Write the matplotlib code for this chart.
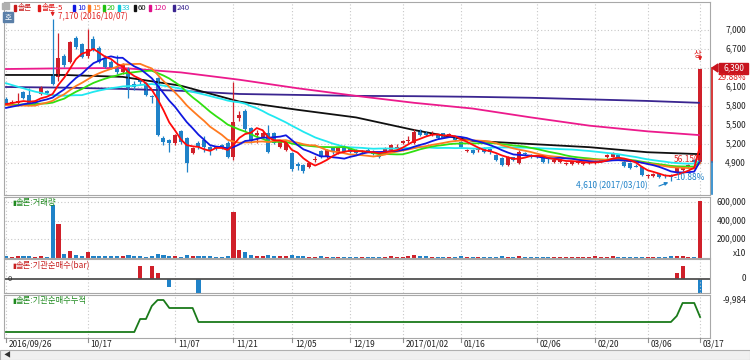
import numpy as np
import matplotlib.pyplot as plt
from matplotlib.patches import Rectangle, Polygon
from matplotlib.lines import Line2D

plt.rcParams['font.family'] = ['Noto Sans CJK KR', 'DejaVu Sans']

# ---- data ----
dates = ['2016/09/26', '10/17', '11/07', '11/21', '12/05', '12/19',
         '2017/01/02', '01/16', '02/06', '02/20', '03/06', '03/17']
date_idx = [0, 14, 29, 39, 49, 59, 68, 78, 91, 101, 110, 119]

opens = [5910, 5840, 5850, 6020, 5980, 5850, 5990, 6040, 6290, 6260,
         6590, 6500, 6880, 6780, 6590, 6860, 6720, 6560, 6490, 6420,
         6330, 6400, 6150, 6220, 6160, 5950, 6240, 5300, 5260, 5210,
         5400, 5300, 5060, 5220, 5260, 5150, 5150, 5180, 5220, 5000,
         5610, 5720, 5450, 5340, 5310, 5380, 5370, 5160, 5110, 5060,
         4880, 4870, 4840, 4950, 5090, 4990, 5140, 5060, 5150, 5130,
         5100, 5070, 5110, 5080, 5030, 5080, 5110, 5140, 5220, 5250,
         5220, 5420, 5390, 5350, 5340, 5370, 5340, 5300, 5230, 5090,
         5100, 5100, 5130, 5120, 5030, 4980, 4870, 4990, 4900, 5060,
         5030, 5010, 4990, 4950, 4920, 4920, 4890, 4890, 4900, 4890,
         4900, 4910, 4930, 4990, 5000, 5020, 4920, 4900, 4860, 4840,
         4690, 4700, 4720, 4700, 4700, 4740, 4790, 4830, 4950, 4920]
highs = [5950, 5900, 6000, 6040, 6080, 5900, 6110, 6060, 7170, 6950,
         6620, 6830, 6900, 6800, 7020, 6900, 6740, 6600, 6520, 6600,
         6480, 6420, 6200, 6250, 6180, 5980, 6260, 5330, 5280, 5360,
         5420, 5310, 5160, 5240, 5320, 5170, 5170, 5200, 5240, 6180,
         5720, 5760, 5470, 5420, 5400, 5500, 5390, 5250, 5230, 5080,
         4920, 4890, 4920, 5010, 5110, 5120, 5160, 5160, 5190, 5150,
         5120, 5100, 5130, 5100, 5050, 5150, 5200, 5200, 5270, 5330,
         5440, 5440, 5400, 5400, 5360, 5380, 5380, 5320, 5240, 5120,
         5120, 5140, 5150, 5130, 5050, 5000, 5010, 5000, 5100, 5080,
         5050, 5030, 5000, 4980, 4970, 4960, 4920, 4930, 4930, 4920,
         4930, 4940, 4960, 5050, 5070, 5040, 4940, 4910, 4880, 4860,
         4730, 4740, 4740, 4720, 4720, 4830, 4860, 4890, 4970, 6390]
lows = [5810, 5820, 5820, 5910, 5820, 5840, 5980, 5990, 6130, 6200,
        6420, 6480, 6700, 6560, 6560, 6670, 6480, 6400, 6380, 6300,
        6300, 5930, 6050, 6150, 5960, 5850, 5320, 5180, 5070, 5190,
        5200, 4760, 5040, 5120, 5080, 5030, 5110, 5120, 4980, 4950,
        5560, 5400, 5220, 5220, 5300, 5060, 5200, 5140, 5090, 4780,
        4790, 4750, 4820, 4910, 4980, 4980, 5050, 5040, 5060, 5060,
        5040, 5040, 5070, 5030, 4980, 5060, 5090, 5110, 5200, 5220,
        5200, 5330, 5320, 5330, 5280, 5290, 5320, 5250, 5140, 5070,
        5040, 5080, 5060, 5050, 4930, 4850, 4850, 4930, 4880, 5020,
        4980, 4980, 4900, 4900, 4900, 4900, 4870, 4870, 4880, 4870,
        4880, 4890, 4910, 4980, 4990, 4960, 4840, 4810, 4830, 4700,
        4670, 4680, 4660, 4670, 4610, 4720, 4780, 4820, 4900, 4900]
closes = [5830, 5870, 5880, 5930, 5830, 5880, 6090, 6000, 6150, 6560,
          6450, 6810, 6730, 6580, 6700, 6690, 6500, 6420, 6400, 6330,
          6450, 6080, 6100, 6180, 5980, 5940, 5340, 5230, 5210, 5340,
          5230, 4900, 5140, 5160, 5150, 5110, 5130, 5140, 5000, 5550,
          5660, 5440, 5240, 5370, 5380, 5080, 5220, 5230, 5210, 4800,
          4860, 4770, 4900, 4970, 5000, 5100, 5070, 5140, 5080, 5080,
          5060, 5080, 5090, 5040, 5000, 5130, 5180, 5160, 5240, 5270,
          5390, 5350, 5340, 5380, 5300, 5300, 5360, 5270, 5150, 5100,
          5060, 5130, 5080, 5070, 4950, 4870, 4990, 4950, 5080, 5040,
          5000, 5000, 4920, 4940, 4950, 4950, 4900, 4910, 4910, 4900,
          4910, 4920, 4940, 5030, 5050, 4980, 4850, 4820, 4840, 4710,
          4710, 4720, 4680, 4690, 4680, 4820, 4840, 4870, 4920, 6390]
# closes before 2016/09/26, needed for the short moving averages
pre_close = [6800, 6780, 6760, 6740, 6720, 6700, 6690, 6680, 6660, 6650,
             6640, 6600, 6560, 5850, 5820, 5800, 5810, 5795, 5960, 5930,
             5900, 5880, 5855, 5680, 5700, 5720, 5700, 5750, 5800, 5790,
             5850, 5880]

# long averages at every 10th bar
long_idx = [0, 10, 20, 30, 40, 50, 60, 70, 80, 90, 100, 110, 119]
ma60 = [6290, 6290, 6260, 6120, 5870, 5740, 5620, 5420, 5250, 5200, 5150, 5070, 5040]
ma120 = [6384, 6395, 6400, 6330, 6215, 6080, 5960, 5850, 5760, 5620, 5490, 5400, 5340]
ma240 = [6100, 6090, 6070, 6040, 5990, 5975, 5960, 5955, 5945, 5930, 5905, 5880, 5850]

volume = [15000, 12000, 20000, 14000, 16000, 13000, 20000, 12000, 567000, 362000,
          35000, 70000, 27000, 17000, 60000, 20000, 18000, 15000, 14000, 16000,
          14000, 25000, 18000, 15000, 12000, 14000, 38000, 25000, 18000, 15000,
          12000, 30000, 14000, 20000, 16000, 14000, 12000, 12000, 14000, 492000,
          80000, 60000, 30000, 20000, 15000, 28000, 18000, 14000, 15000, 25000,
          14000, 16000, 12000, 10000, 14000, 13000, 12000, 11000, 12000, 10000,
          9000, 8000, 10000, 9000, 10000, 12000, 14000, 10000, 12000, 14000,
          25000, 20000, 14000, 12000, 12000, 10000, 10000, 12000, 14000, 10000,
          9000, 8000, 9000, 10000, 12000, 14000, 12000, 10000, 22000, 10000,
          9000, 8000, 10000, 9000, 8000, 10000, 9000, 8000, 10000, 9000,
          12000, 15000, 10000, 12000, 14000, 10000, 12000, 10000, 9000, 12000,
          10000, 9000, 8000, 10000, 14000, 16000, 14000, 10000, 12000, 610000]

inst_idx = [23, 25, 26, 28, 33, 115, 116, 119]
inst_val = [13000, 13000, 6000, -8000, -14000, 6000, 13000, -14000]
inst_start = -41984

price_ticks = [4900, 5200, 5500, 5800, 6100, 6400, 6700, 7000]
vol_ticks = [200000, 400000, 600000]

# ---- helpers ----
W, H = 750, 360
RED, BLUE = '#d0202a', '#1f82c8'
fig = plt.figure(figsize=(7.5, 3.6), dpi=100)


def px_axes(x0, y0, x1, y1):
    a = fig.add_axes([x0 / W, 1 - y1 / H, (x1 - x0) / W, (y1 - y0) / H])
    a.set_xlim(-0.34, 120.7)
    a.set_xticks(date_idx)
    a.tick_params(length=0, labelbottom=False, labelleft=False)
    a.grid(axis='x', color='#c8c8c8', linestyle=(0, (1, 2)), linewidth=0.8)
    for s in a.spines.values():
        s.set_color('#a8a8a8')
    return a


def ftext(x, y, s, **kw):
    return fig.text(x / W, 1 - y / H, s, **kw)


def rlabel(a, v, s, **kw):
    a.text((746 - 4) / 706, v, s, transform=a.get_yaxis_transform(), ha='right',
           va='center', fontsize=6, color='#202020', clip_on=False, **kw)


n = len(closes)
x = np.arange(n)
o, h, l, c = map(np.array, (opens, highs, lows, closes))
up = c >= o
colors = np.where(up, RED, BLUE)

full = np.array(pre_close + closes, dtype=float)
ma = {}
for k in (5, 10, 15, 20, 33):
    ma[k] = np.convolve(full, np.ones(k) / k, mode='valid')[-n:]

# ---- price panel ----
ax = px_axes(4, 2, 710, 195)
ax.set_ylim(4395, 7442)
ax.set_yticks(price_ticks)
ax.grid(axis='y', color='#c8c8c8', linestyle=(0, (1, 2)), linewidth=0.8)
ax.set_axisbelow(True)
ax.plot(long_idx, ma240, color='#3a2590', lw=1.3)
ax.plot(long_idx, ma120, color='#ec1a8c', lw=1.3)
ax.plot(long_idx, ma60, color='#101010', lw=1.3)
ax.vlines(x, l, h, colors=colors, lw=0.9)
body = np.maximum(np.abs(c - o), 14)
ax.bar(x, body, bottom=np.minimum(o, c), width=0.68, color=colors, linewidth=0)
ax.plot(x, ma[33], color='#20e8f0', lw=1.3)
ax.plot(x, ma[20], color='#30e010', lw=1.3)
ax.plot(x, ma[15], color='#ff7a20', lw=1.3)
ax.plot(x, ma[10], color='#1018e0', lw=1.3)
ax.plot(x, ma[5], color='#ff0a0a', lw=1.3)
for v in price_ticks:
    if v != 6400:
        rlabel(ax, v, f'{v:,}')

# legend row
fig.add_artist(Rectangle((2 / W, 1 - 9 / H), 7 / W, 6 / H, transform=fig.transFigure,
                         color='#b0b0b0'))
legend = [('솔론', 18, '#c81818'), ('솔론-5', 42, '#e01818'), ('10', 77, '#1018e0'),
          ('15', 92, '#ff7a20'), ('20', 107, '#20c010'), ('33', 122, '#10c8d8'),
          ('60', 138, '#101010'), ('120', 153, '#e0108a'), ('240', 177, '#3a2590')]
for name, lx, col in legend:
    fig.add_artist(Rectangle(((lx - 4) / W, 1 - 11 / H), 2 / W, 6 / H,
                             transform=fig.transFigure, color=col))
    ftext(lx, 8, name, color=col, fontsize=5.6, va='center')
fig.add_artist(Rectangle((3 / W, 1 - 22 / H), 10 / W, 10 / H, transform=fig.transFigure,
                         color='#5a7fa8'))
ftext(8, 17, '호', color='white', fontsize=5.5, ha='center', va='center')
ftext(58, 16.5, '7,170 (2016/10/07)', color='#e02020', fontsize=5.8, va='center')
ax.annotate('', xy=(8, 7170), xytext=(8, 7330),
            arrowprops=dict(arrowstyle='-|>', color='#e02020', lw=0.8, mutation_scale=5))

# annotations at the right end
ftext(697, 54, '상', color='#e02020', fontsize=6, ha='center', va='center')
ax.annotate('', xy=(119, 6470), xytext=(119, 6640),
            arrowprops=dict(arrowstyle='-|>', color='#e02020', lw=0.8, mutation_scale=5))
ftext(648, 186, '4,610 (2017/03/10)', color='#1f82c8', fontsize=6, ha='right', va='center')
ax.annotate('', xy=(114, 4610), xytext=(111.5, 4520),
            arrowprops=dict(arrowstyle='-|>', color='#1f82c8', lw=0.8, mutation_scale=5))
ftext(703, 160, '56.15%', color='#e02020', fontsize=6, ha='right', va='center')
ftext(705, 177, '-10.88%', color='#1f82c8', fontsize=6, ha='right', va='center')

# current price box on the right axis
fig.add_artist(Rectangle((719 / W, 1 - 73.5 / H), 29 / W, 11 / H, transform=fig.transFigure,
                         color='#c8141e'))
ftext(733.5, 68, '6,390', color='white', fontsize=6, ha='center', va='center')
ftext(746, 78, '29.88%', color='#e02020', fontsize=6, ha='right', va='center')
fig.add_artist(Polygon([(712 / W, 1 - 68 / H), (718 / W, 1 - 64 / H), (718 / W, 1 - 72 / H)],
                       closed=True, transform=fig.transFigure, color='#c8141e'))
fig.add_artist(Line2D([712 / W, 712 / W], [1 - 68 / H, 1 - 162 / H],
                      transform=fig.transFigure, color='#d01818', lw=1.2))
fig.add_artist(Line2D([712 / W, 712 / W], [1 - 162 / H, 1 - 194 / H],
                      transform=fig.transFigure, color='#1f82c8', lw=1.2))

# ---- volume panel ----
av = px_axes(4, 197, 710, 258)
av.set_ylim(-3000, 655000)
av.set_yticks(vol_ticks)
av.grid(axis='y', color='#c8c8c8', linestyle=(0, (1, 2)), linewidth=0.8)
av.set_axisbelow(True)
av.bar(x, volume, width=0.7, color=colors, linewidth=0)
for v in vol_ticks:
    rlabel(av, v, f'{v:,}')
rlabel(av, 50000, 'x10')
ftext(12, 203, '▮', color='#208a20', fontsize=5, va='center')
ftext(16, 203, '솔론:거래량', color='#208a20', fontsize=6, va='center')

# ---- institution net buying (bar) ----
ab = px_axes(4, 259, 710, 293)
ab.set_ylim(-14500, 20000)
ab.axhline(0, color='#505050', lw=1.3)
inst_bar = np.zeros(n)
inst_bar[inst_idx] = inst_val
ab.bar(x, inst_bar, width=0.7, color=np.where(inst_bar >= 0, RED, BLUE), linewidth=0)
rlabel(ab, 0, '0')
ftext(8, 279, '0', color='#303030', fontsize=5.5, va='center')
ftext(12, 266, '▮', color='#c82020', fontsize=5, va='center')
ftext(16, 266, '솔론:기관순매수(bar)', color='#c82020', fontsize=6, va='center')

# ---- institution net buying (cumulative) ----
ac = px_axes(4, 295, 710, 338)
cum = inst_start + np.cumsum(inst_bar)
ac.set_ylim(inst_start - 6000, inst_start + 37000)
ac.plot(x, cum, color='#1a7a1a', lw=1.3)
rlabel(ac, cum.max(), f'{int(cum.max()):,}')
ftext(12, 301, '▮', color='#208a20', fontsize=5, va='center')
ftext(16, 301, '솔론:기관순매수누적', color='#208a20', fontsize=6, va='center')

# ---- date labels and bottom bar ----
for i, d in zip(date_idx, dates):
    px = 4 + (i + 0.34) * 706 / 121.04
    ftext(px + 3, 344, d, fontsize=6, color='#202020', va='center')
    fig.add_artist(Line2D([px / W, px / W], [1 - 338 / H, 1 - 342 / H],
                          transform=fig.transFigure, color='#909090', lw=0.8))
fig.add_artist(Rectangle((0, 0), 1, 10 / H, transform=fig.transFigure,
                         facecolor='#f0f0f0', edgecolor='#b0b0b0', lw=0.8))
ftext(4, 355, '◀', fontsize=5, color='#303030', va='center')

fig.savefig('out.png', dpi=100)
